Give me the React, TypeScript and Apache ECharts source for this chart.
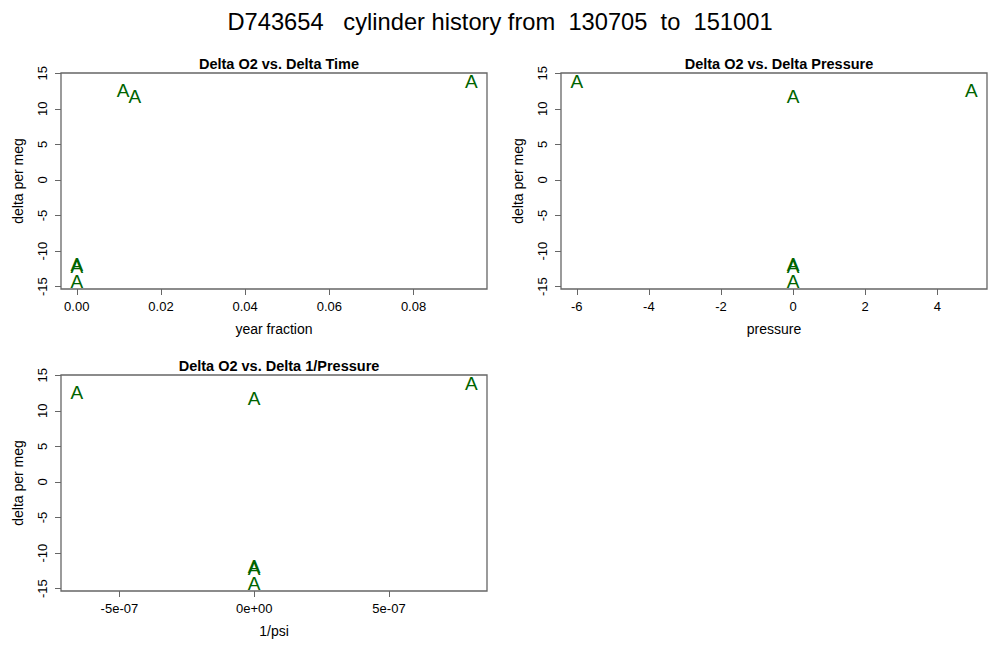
import React, { useEffect, useRef } from "react";
import * as echarts from "echarts";

const mainTitle = "D743654   cylinder history from  130705  to  151001";
const panelTitles = ["Delta O2 vs. Delta Time", "Delta O2 vs. Delta Pressure", "Delta O2 vs. Delta 1/Pressure"];
const xNames = ["year fraction", "pressure", "1/psi"];
const yName = "delta per meg";

const deltaPerMeg = [13.9, 12.55, 11.7, -11.9, -12.1, -14.2];
const yearFraction = [0.0937, 0.011, 0.0138, 0, 0, 0];
const pressure = [-6, 4.94, 0, 0, 0, 0];
const invPsi = [8.05e-7, -6.58e-7, 0, 0, 0, 0];

const yTicks = [-15, -10, -5, 0, 5, 10, 15];
const xTicks1 = [0, 0.02, 0.04, 0.06, 0.08];
const xTicks2 = [-6, -4, -2, 0, 2, 4];
const xTicks3 = [-5e-7, 0, 5e-7];

const FONT = "Liberation Sans";
const GREEN = "#006400";
const GRAY = "#666666";

function rRange(v: number[]) {
  const lo = Math.min(...v);
  const hi = Math.max(...v);
  const e = (hi - lo) * 0.04;
  return [lo - e, hi + e];
}

function fmt1(v: number) {
  return v.toFixed(2);
}
function fmt3(v: number) {
  if (v === 0) return "0e+00";
  const exp = Math.floor(Math.log10(Math.abs(v)));
  const m = v / Math.pow(10, exp);
  const es = (exp < 0 ? "-" : "+") + String(Math.abs(exp)).padStart(2, "0");
  return `${Math.round(m)}e${es}`;
}

export default function App() {
  const ref = useRef<HTMLDivElement>(null);
  useEffect(() => {
    document.body.style.margin = "0";
    const chart = echarts.init(ref.current!, null, { renderer: "svg" });
    const grids = [
      { left: 61, top: 73, width: 426, height: 216 },
      { left: 561, top: 73, width: 426, height: 216 },
      { left: 61, top: 375, width: 426, height: 216 },
    ];
    const xs = [yearFraction, pressure, invPsi];
    const xTicks = [xTicks1, xTicks2, xTicks3];
    const xFmt = [fmt1, (v: number) => String(v), fmt3];
    const yr = rRange(deltaPerMeg);
    const option: any = {
      animation: false,
      textStyle: { fontFamily: FONT },
      title: [
        {
          text: mainTitle,
          left: "center",
          top: 5,
          textStyle: { fontFamily: FONT, fontSize: 23.7, fontWeight: "normal", color: "#000" },
        },
        ...panelTitles.map((t, i) => ({
          text: t,
          left: grids[i].left + grids[i].width / 2,
          textAlign: "center",
          top: grids[i].top - 22,
          textStyle: { fontFamily: FONT, fontSize: 14.5, fontWeight: "bold", color: "#000" },
        })),
      ],
      grid: grids.map((g) => ({ ...g, show: true, borderColor: GRAY, borderWidth: 1.3, backgroundColor: "transparent" })),
      xAxis: xs.map((x, i) => {
        const r = rRange(x);
        return {
          type: "value",
          gridIndex: i,
          min: r[0],
          max: r[1],
          name: xNames[i],
          nameLocation: "middle",
          nameGap: 33,
          nameTextStyle: { fontFamily: FONT, fontSize: 14, color: "#000" },
          splitLine: { show: false },
          axisLine: { show: false, onZero: false },
          axisTick: { show: true, length: 6, customValues: xTicks[i], lineStyle: { color: GRAY } },
          axisLabel: {
            show: true,
            customValues: xTicks[i],
            formatter: xFmt[i],
            margin: 11,
            fontFamily: FONT,
            fontSize: 13,
            color: "#000",
          },
        };
      }),
      yAxis: grids.map((_, i) => ({
        type: "value",
        gridIndex: i,
        min: yr[0],
        max: yr[1],
        name: yName,
        nameLocation: "middle",
        nameGap: 36,
        nameTextStyle: { fontFamily: FONT, fontSize: 14, color: "#000" },
        splitLine: { show: false },
        axisLine: { show: false, onZero: false },
        axisTick: { show: true, length: 6, customValues: yTicks, lineStyle: { color: GRAY } },
        axisLabel: {
          show: true,
          customValues: yTicks,
          rotate: 90,
          margin: 12,
          fontFamily: FONT,
          fontSize: 13,
          color: "#000",
        },
      })),
      series: xs.map((x, i) => ({
        type: "scatter",
        xAxisIndex: i,
        yAxisIndex: i,
        symbol: "circle",
        symbolSize: 1,
        itemStyle: { color: "rgba(0,0,0,0)", opacity: 1 },
        data: x.map((v, j) => [v, deltaPerMeg[j]]),
        label: {
          show: true,
          position: "inside",
          formatter: "A",
          fontFamily: FONT,
          fontSize: 19,
          color: GREEN,
          opacity: 1,
        },
        emphasis: { disabled: true },
      })),
    };
    chart.setOption(option);
    return () => chart.dispose();
  }, []);
  return <div ref={ref} style={{ width: 1000, height: 670, background: "#fff" }} />;
}
